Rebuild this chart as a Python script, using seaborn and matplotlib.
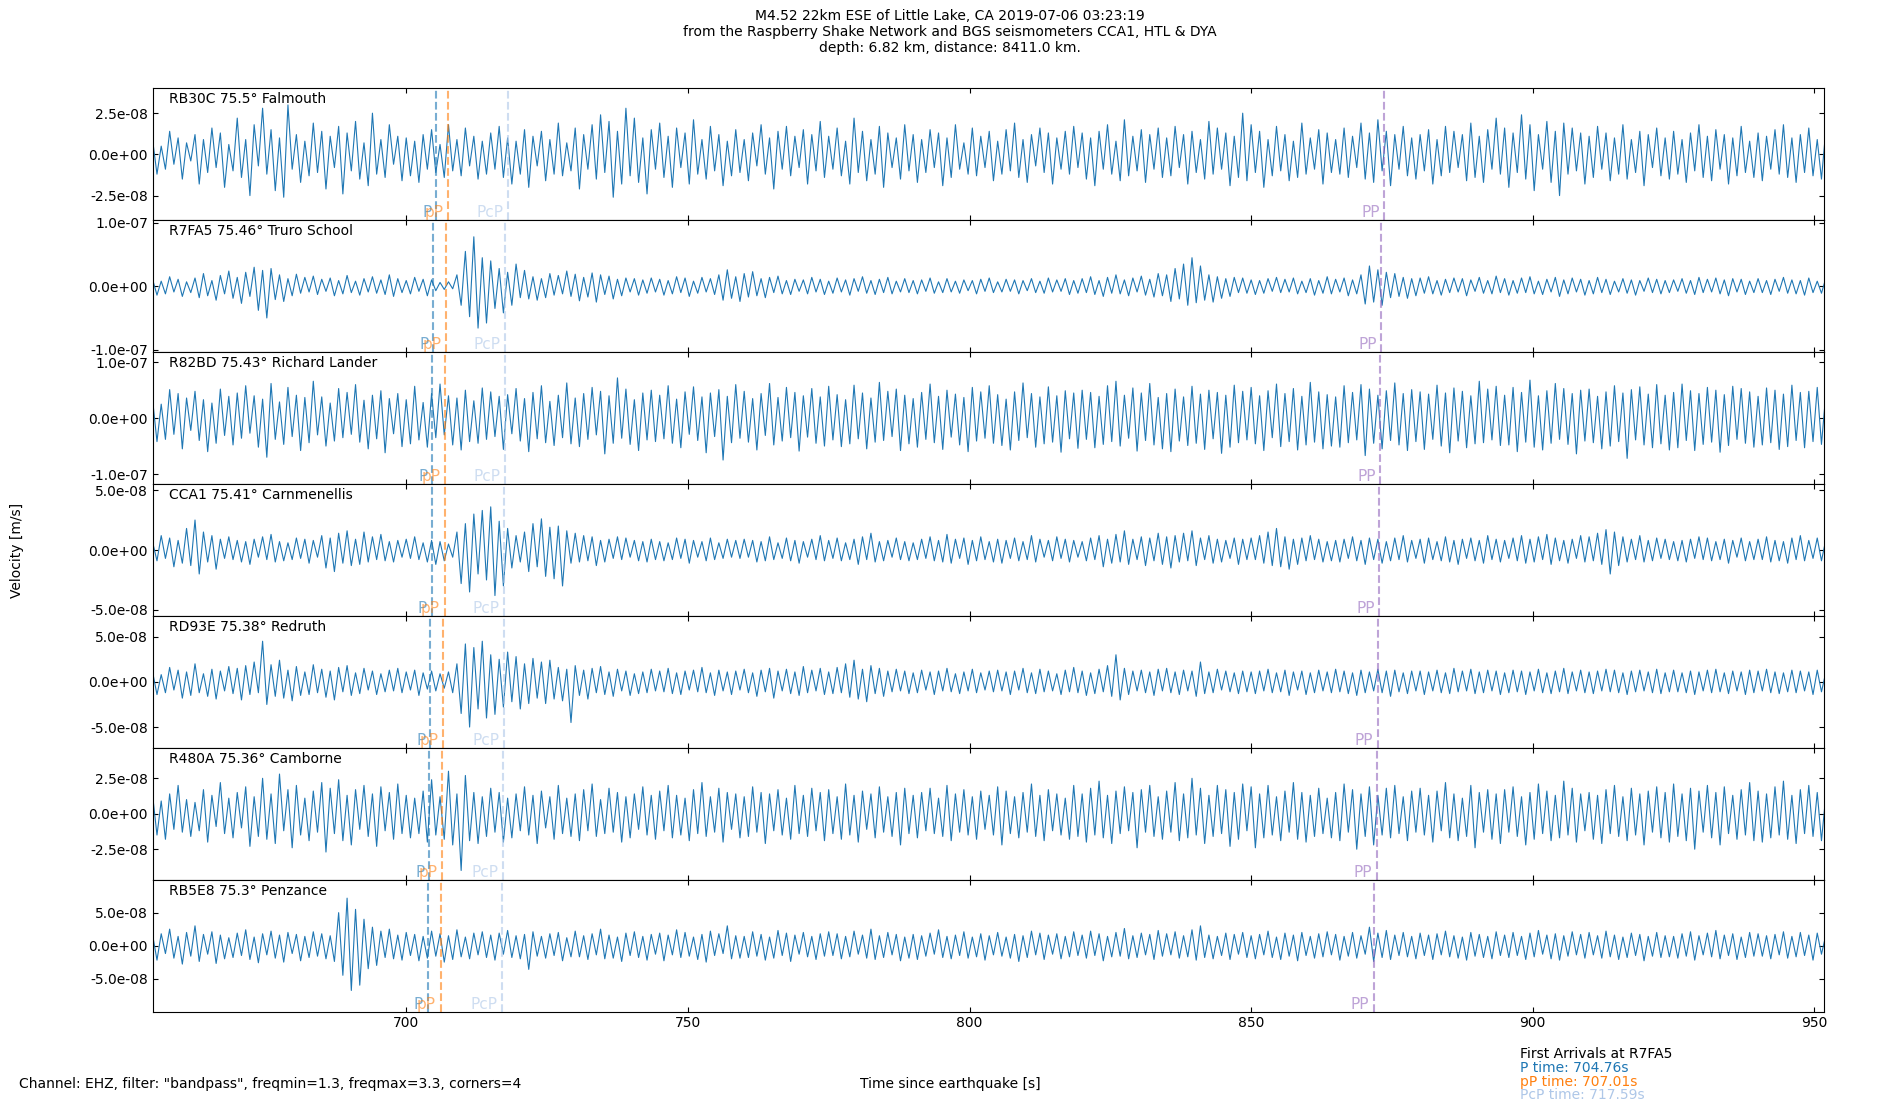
import numpy as np
import matplotlib
matplotlib.use("Agg")
import matplotlib.pyplot as plt
import matplotlib.transforms as mtransforms
from matplotlib.ticker import FormatStrFormatter
import seaborn as sns


# time axis of the traces (seconds since the earthquake)
T_START = 655.0
T_STEP = 0.75
X_LIM = (655.0, 951.7)

STATIONS = ["RB30C", "R7FA5", "R82BD", "CCA1", "RD93E", "R480A", "RB5E8"]
DISTANCES = [75.5, 75.46, 75.43, 75.41, 75.38, 75.36, 75.3]
PLACES = ["Falmouth", "Truro School", "Richard Lander", "Carnmenellis",
          "Redruth", "Camborne", "Penzance"]

# arrival times per station [s]
P_TIMES = [705.3, 704.76, 704.6, 704.5, 704.3, 704.1, 703.8]
PP_DEPTH_TIMES = [707.5, 707.01, 706.9, 706.8, 706.6, 706.4, 706.1]
PCP_TIMES = [718.0, 717.59, 717.5, 717.4, 717.3, 717.2, 717.0]
PP_TIMES = [873.6, 873.1, 872.9, 872.7, 872.5, 872.3, 871.8]

Y_LIMS = [4.0e-8, 1.04e-7, 1.18e-7, 5.5e-8, 7.3e-8, 4.65e-8, 1.0e-7]
Y_TICKS = [2.5e-8, 1.0e-7, 1.0e-7, 5.0e-8, 5.0e-8, 2.5e-8, 5.0e-8]

# velocity samples in nm/s, one every 0.75 s, 20 per row = 15 s
RB30C_NM = [
    8, -12, 5, -9, 14, -6, 10, -15, 7, -4, 12, -18, 9, -11, 16, -8, 13, -20, 6, -10,
    22, -14, 9, -25, 18, -7, 28, -12, 15, -22, 10, -26, 30, -9, 12, -17, 8, -13, 19, -11,
    14, -21, 11, -8, 17, -24, 13, -10, 20, -15, 7, -19, 25, -12, 9, -14, 18, -6, 11, -16,
    10, -13, 8, -17, 12, -9, 15, -11, 6, -14, 18, -10, 9, -13, 16, -7, 11, -15, 8, -12,
    13, -9, 17, -14, 10, -18, 8, -12, 15, -20, 11, -7, 14, -16, 9, -12, 19, -13, 7, -10,
    16, -21, 12, -9, 18, -15, 24, -11, 20, -26, 14, -18, 28, -13, 22, -17, 10, -24, 15, -9,
    19, -14, 11, -20, 16, -8, 13, -18, 21, -12, 9, -15, 17, -10, 12, -19, 8, -13, 15, -11,
    9, -16, 13, -7, 18, -12, 10, -21, 14, -9, 17, -13, 11, -8, 15, -18, 12, -10, 20, -14,
    11, -9, 16, -13, 8, -18, 22, -11, 14, -16, 9, -12, 17, -20, 13, -8, 10, -15, 18, -10,
    12, -17, 9, -11, 15, -8, 13, -19, 10, -14, 18, -9, 7, -12, 16, -13, 11, -8, 14, -16,
    8, -12, 15, -10, 19, -14, 9, -17, 12, -7, 16, -11, 13, -18, 10, -9, 14, -12, 17, -8,
    13, -15, 10, -19, 14, -9, 18, -12, 8, -16, 21, -13, 11, -10, 15, -17, 12, -9, 16, -14,
    10, -13, 17, -8, 12, -18, 14, -11, 9, -15, 20, -12, 16, -9, 13, -19, 11, -14, 25, -16,
    18, -11, 14, -20, 9, -13, 17, -10, 12, -16, 8, -14, 19, -12, 10, -9, 15, -18, 13, -11,
    9, -12, 16, -14, 11, -8, 19, -15, 13, -17, 21, -10, 14, -19, 12, -9, 17, -13, 10, -15,
    12, -10, 15, -18, 9, -13, 17, -11, 14, -8, 12, -16, 19, -14, 11, -17, 15, -9, 22, -12,
    16, -20, 13, -11, 24, -15, 18, -22, 12, -9, 20, -17, 14, -25, 19, -12, 16, -10, 13, -18,
    11, -14, 17, -9, 13, -16, 10, -12, 18, -15, 9, -11, 14, -19, 12, -8, 16, -13, 10, -15,
    14, -12, 9, -17, 13, -10, 18, -14, 11, -16, 15, -9, 12, -18, 10, -13, 17, -11, 8, -14,
    13, -16, 11, -9, 15, -12, 18, -14, 10, -17, 12, -11, 16, -13, 9, -15, 14, -10, 12, -8,
]

R7FA5_NM = [
    10, -14, 8, -12, 15, -9, 11, -16, 7, -10, 13, -18, 20, -15, 9, -22, 17, -12, 24, -19,
    14, -27, 22, -16, 30, -38, 25, -50, 28, -21, 18, -24, 12, -15, 19, -11, 14, -9, 16, -13,
    11, -8, 13, -15, 9, -12, 17, -10, 8, -14, 12, -9, 15, -11, 10, -13, 18, -16, 12, -10,
    9, -12, 14, -8, 11, -15, 10, -7, 6, -5, 7, -4, 18, -30, 55, -48, 78, -66, 45, -58,
    40, -35, 28, -42, 22, -30, 35, -18, 25, -20, 15, -22, 12, -18, 20, -14, 17, -12, 24, -16,
    19, -23, 14, -17, 21, -25, 18, -13, 16, -20, 11, -15, 13, -9, 12, -14, 10, -11, 13, -9,
    11, -14, 9, -12, 15, -10, 13, -16, 8, -11, 14, -9, 12, -13, 18, -22, 26, -19, 15, -24,
    20, -17, 23, -15, 12, -18, 14, -10, 16, -12, 9, -13, 11, -8, 10, -12, 14, -9, 11, -13,
    8, -11, 13, -9, 10, -14, 12, -8, 15, -11, 9, -13, 11, -10, 14, -12, 8, -9, 12, -10,
    9, -12, 10, -8, 13, -11, 7, -10, 12, -9, 8, -11, 10, -7, 9, -12, 11, -8, 13, -10,
    7, -9, 11, -8, 10, -12, 9, -7, 12, -10, 8, -11, 13, -9, 10, -8, 12, -13, 9, -11,
    12, -10, 15, -13, 9, -16, 14, -11, 18, -12, 10, -15, 13, -9, 16, -14, 11, -17, 20, -15,
    18, -24, 28, -20, 35, -30, 45, -26, 32, -22, 18, -25, 15, -19, 12, -16, 14, -10, 13, -11,
    10, -13, 9, -11, 12, -8, 14, -10, 11, -9, 13, -12, 8, -10, 12, -14, 9, -11, 15, -12,
    11, -9, 13, -15, 10, -12, 18, -28, 32, -25, 26, -30, 22, -18, 20, -16, 14, -19, 12, -15,
    13, -11, 15, -12, 9, -14, 11, -10, 13, -9, 12, -15, 10, -8, 14, -11, 9, -12, 16, -10,
    12, -14, 9, -11, 13, -10, 15, -12, 8, -13, 11, -9, 14, -16, 10, -12, 13, -9, 11, -14,
    9, -12, 14, -10, 11, -13, 8, -9, 12, -11, 10, -14, 9, -8, 13, -10, 11, -12, 9, -10,
    10, -8, 12, -11, 9, -13, 14, -10, 11, -9, 13, -12, 10, -15, 12, -9, 11, -13, 8, -10,
    12, -10, 9, -13, 11, -8, 14, -11, 10, -12, 9, -14, 13, -10, 8, -11, 12, -9, 10, -12,
]

R82BD_NM = [
    30, -42, 25, -38, 51, -29, 44, -55, 36, -22, 48, -40, 33, -60, 27, -45, 52, -31, 39, -48,
    45, -36, 58, -27, 40, -52, 34, -70, 62, -38, 29, -47, 55, -33, 41, -58, 37, -44, 66, -30,
    38, -50, 27, -41, 53, -35, 46, -29, 60, -43, 32, -55, 41, -37, 49, -62, 35, -28, 44, -51,
    33, -46, 57, -39, 28, -52, 44, -35, 61, -30, 40, -48, 36, -57, 50, -42, 31, -45, 54, -38,
    47, -33, 39, -56, 42, -28, 53, -41, 35, -60, 46, -37, 58, -44, 30, -49, 41, -35, 63, -46,
    36, -51, 44, -38, 55, -30, 48, -64, 40, -45, 72, -36, 52, -47, 33, -58, 45, -39, 50, -42,
    41, -37, 58, -45, 34, -53, 47, -29, 56, -40, 38, -62, 45, -33, 51, -75, 39, -44, 60, -36,
    48, -43, 35, -57, 44, -31, 62, -48, 37, -41, 55, -35, 46, -59, 40, -34, 53, -45, 38, -50,
    57, -39, 42, -51, 33, -46, 59, -37, 45, -55, 36, -43, 64, -40, 48, -33, 52, -58, 41, -46,
    35, -52, 46, -38, 61, -44, 39, -56, 50, -34, 43, -48, 37, -60, 55, -41, 47, -36, 58, -45,
    42, -49, 34, -57, 47, -40, 63, -35, 44, -52, 38, -46, 56, -43, 40, -61, 49, -37, 45, -54,
    50, -38, 46, -53, 39, -47, 58, -42, 66, -50, 41, -36, 54, -59, 45, -40, 62, -48, 37, -55,
    44, -60, 52, -41, 38, -49, 57, -45, 43, -56, 50, -37, 46, -63, 41, -52, 59, -44, 48, -39,
    55, -46, 40, -58, 49, -35, 61, -51, 44, -42, 53, -57, 39, -48, 64, -43, 47, -55, 42, -50,
    38, -52, 58, -44, 46, -39, 60, -67, 52, -45, 41, -55, 49, -40, 63, -48, 44, -58, 51, -42,
    47, -56, 43, -38, 59, -50, 45, -62, 54, -41, 48, -53, 40, -46, 66, -44, 52, -39, 57, -49,
    41, -48, 55, -60, 46, -43, 68, -52, 40, -57, 49, -45, 62, -38, 53, -47, 44, -64, 50, -41,
    52, -44, 39, -55, 47, -50, 58, -42, 45, -72, 51, -39, 56, -48, 43, -53, 60, -46, 41, -57,
    46, -53, 61, -40, 49, -58, 44, -47, 55, -43, 50, -61, 42, -49, 57, -38, 53, -45, 47, -52,
    39, -48, 54, -44, 50, -56, 43, -51, 59, -40, 46, -53, 48, -42, 55, -47, 41, -50, 45, -43,
]

CCA1_NM = [
    6, -9, 12, -7, 10, -14, 8, -11, 18, -13, 25, -20, 15, -10, 12, -16, 9, -7, 11, -8,
    8, -10, 7, -12, 9, -6, 11, -8, 13, -10, 7, -9, 6, -8, 10, -7, 9, -11, 8, -6,
    12, -15, 10, -18, 14, -11, 16, -13, 9, -12, 15, -10, 11, -8, 13, -9, 7, -10, 8, -6,
    9, -7, 11, -8, 6, -10, 8, -12, 7, -9, 5, -6, 15, -28, 22, -35, 30, -20, 33, -25,
    36, -38, 24, -30, 18, -15, 12, -10, 15, -18, 22, -14, 26, -22, 19, -24, 20, -30, 16, -11,
    14, -10, 12, -9, 11, -13, 8, -10, 9, -7, 11, -8, 10, -6, 8, -9, 7, -10, 9, -8,
    7, -9, 6, -8, 10, -7, 9, -11, 8, -6, 7, -9, 10, -8, 6, -7, 9, -6, 8, -7,
    9, -6, 8, -10, 7, -9, 11, -8, 6, -7, 10, -9, 8, -11, 7, -6, 9, -8, 12, -9,
    8, -7, 10, -9, 6, -8, 9, -12, 11, -8, 14, -10, 7, -9, 8, -6, 10, -8, 7, -9,
    6, -8, 9, -7, 11, -9, 8, -10, 13, -11, 9, -7, 10, -12, 8, -9, 11, -8, 7, -10,
    9, -11, 8, -7, 10, -9, 7, -8, 12, -10, 9, -6, 8, -9, 11, -7, 9, -10, 8, -6,
    7, -9, 10, -8, 12, -14, 9, -11, 13, -10, 16, -12, 9, -8, 11, -13, 10, -9, 14, -12,
    11, -15, 12, -10, 14, -9, 16, -13, 10, -8, 12, -11, 9, -10, 8, -7, 10, -12, 9, -8,
    10, -8, 12, -11, 15, -13, 18, -14, 11, -16, 9, -12, 10, -9, 12, -8, 9, -10, 7, -9,
    8, -10, 9, -7, 11, -9, 8, -12, 10, -8, 9, -11, 7, -9, 10, -8, 12, -10, 8, -7,
    9, -11, 10, -8, 7, -9, 11, -10, 8, -12, 9, -7, 10, -9, 8, -11, 12, -8, 9, -10,
    8, -7, 10, -9, 12, -11, 9, -10, 11, -8, 13, -12, 10, -9, 8, -11, 9, -7, 12, -10,
    11, -9, 14, -12, 17, -20, 15, -13, 11, -10, 9, -8, 12, -10, 8, -9, 10, -7, 9, -8,
    7, -9, 8, -10, 9, -7, 11, -8, 10, -9, 7, -8, 9, -11, 8, -6, 10, -9, 7, -8,
    9, -8, 11, -10, 8, -9, 7, -11, 10, -8, 12, -9, 8, -7, 10, -9, 8, -10, 9, -7,
]

RD93E_NM = [
    10, -14, 8, -12, 16, -9, 13, -18, 11, -15, 20, -12, 9, -16, 14, -19, 12, -10, 17, -13,
    15, -20, 18, -14, 22, -12, 45, -25, 19, -16, 24, -18, 13, -21, 17, -15, 11, -14, 19, -12,
    14, -17, 12, -20, 16, -11, 18, -15, 10, -13, 15, -9, 12, -14, 9, -11, 13, -10, 15, -12,
    11, -9, 13, -15, 10, -8, 12, -10, 9, -7, 11, -12, 20, -35, 42, -50, 38, -30, 45, -40,
    30, -36, 25, -28, 33, -22, 28, -30, 20, -24, 26, -18, 22, -24, 24, -19, 16, -21, 14, -45,
    18, -15, 13, -19, 15, -12, 17, -14, 11, -16, 14, -10, 12, -15, 9, -13, 11, -12, 14, -10,
    12, -11, 15, -13, 10, -14, 12, -9, 13, -11, 16, -12, 10, -15, 13, -10, 11, -14, 12, -9,
    14, -12, 10, -16, 13, -11, 15, -18, 12, -10, 14, -13, 11, -15, 17, -12, 13, -10, 15, -14,
    11, -13, 16, -12, 20, -17, 24, -19, 14, -22, 18, -13, 15, -16, 12, -11, 14, -10, 12, -13,
    10, -12, 13, -9, 11, -14, 12, -10, 15, -11, 9, -13, 11, -10, 14, -12, 10, -9, 12, -11,
    13, -10, 11, -14, 12, -9, 15, -12, 10, -13, 14, -11, 12, -10, 9, -14, 13, -11, 16, -12,
    12, -15, 10, -13, 14, -11, 18, -16, 30, -20, 15, -14, 12, -10, 13, -12, 11, -15, 14, -10,
    15, -12, 11, -14, 13, -10, 12, -16, 22, -13, 11, -12, 14, -9, 12, -11, 10, -13, 12, -11,
    11, -13, 12, -10, 14, -12, 10, -11, 13, -15, 11, -9, 12, -14, 10, -12, 13, -10, 11, -12,
    14, -11, 12, -13, 10, -15, 13, -12, 11, -10, 14, -12, 12, -16, 13, -11, 10, -13, 12, -10,
    12, -14, 11, -10, 13, -12, 10, -13, 15, -11, 12, -10, 14, -13, 11, -12, 13, -10, 12, -14,
    10, -12, 13, -11, 12, -14, 11, -10, 14, -12, 10, -13, 12, -11, 15, -13, 11, -10, 13, -12,
    11, -13, 12, -10, 14, -11, 13, -12, 10, -14, 12, -11, 13, -10, 11, -12, 14, -13, 10, -11,
    13, -11, 10, -12, 12, -14, 11, -10, 13, -12, 14, -11, 10, -13, 12, -10, 11, -14, 13, -12,
    12, -10, 14, -12, 11, -13, 10, -11, 13, -12, 12, -10, 11, -14, 13, -11, 10, -12, 12, -10,
]

R480A_NM = [
    12, -15, 9, -18, 14, -11, 20, -13, 10, -16, 8, -12, 17, -20, 13, -9, 22, -14, 11, -17,
    15, -10, 19, -23, 12, -16, 25, -18, 14, -21, 28, -12, 17, -24, 20, -15, 11, -19, 16, -13,
    22, -27, 18, -14, 24, -19, 13, -22, 17, -11, 20, -16, 14, -23, 19, -12, 15, -18, 21, -14,
    13, -17, 11, -14, 16, -20, 24, -15, 12, -18, 30, -22, 14, -40, 27, -19, 15, -21, 12, -16,
    18, -13, 15, -20, 11, -17, 14, -12, 19, -15, 13, -21, 16, -10, 12, -18, 20, -14, 11, -16,
    14, -19, 17, -12, 21, -16, 10, -14, 18, -13, 15, -20, 12, -17, 14, -11, 19, -15, 13, -18,
    16, -12, 20, -17, 13, -15, 11, -19, 17, -14, 22, -16, 12, -13, 18, -20, 15, -11, 14, -17,
    12, -16, 19, -13, 15, -21, 14, -12, 17, -15, 11, -18, 20, -14, 13, -16, 18, -12, 15, -19,
    17, -14, 12, -18, 21, -15, 13, -20, 16, -11, 14, -17, 19, -13, 12, -16, 15, -22, 18, -14,
    13, -17, 15, -12, 18, -14, 11, -16, 20, -19, 14, -13, 17, -15, 12, -18, 16, -11, 13, -15,
    19, -22, 16, -14, 12, -17, 15, -13, 21, -16, 13, -19, 17, -12, 14, -15, 11, -18, 20, -16,
    14, -20, 18, -15, 23, -17, 13, -21, 16, -14, 19, -12, 15, -24, 17, -13, 20, -16, 12, -18,
    16, -13, 22, -19, 14, -17, 25, -15, 18, -21, 13, -16, 20, -14, 17, -23, 15, -18, 21, -12,
    19, -24, 14, -17, 20, -15, 12, -19, 16, -13, 22, -18, 15, -20, 13, -16, 18, -14, 11, -17,
    15, -19, 21, -13, 17, -25, 14, -16, 19, -22, 13, -15, 18, -17, 20, -14, 12, -19, 16, -13,
    18, -15, 13, -20, 16, -12, 22, -17, 14, -19, 11, -16, 20, -24, 15, -13, 17, -18, 14, -21,
    17, -13, 19, -16, 12, -22, 15, -18, 21, -14, 16, -19, 13, -17, 23, -15, 18, -20, 14, -12,
    15, -18, 13, -21, 17, -14, 20, -16, 12, -19, 18, -15, 14, -22, 16, -13, 19, -17, 15, -20,
    21, -16, 14, -19, 18, -25, 16, -13, 20, -17, 15, -22, 19, -14, 13, -18, 17, -15, 22, -19,
    16, -20, 14, -17, 19, -15, 23, -18, 13, -21, 17, -14, 20, -16, 15, -19, 12, -28, 18, -15,
]

RB5E8_NM = [
    15, -22, 18, -12, 25, -19, 14, -28, 20, -16, 30, -24, 17, -13, 21, -27, 16, -20, 12, -18,
    19, -15, 24, -21, 13, -26, 18, -14, 22, -19, 16, -25, 20, -12, 17, -23, 14, -18, 21, -16,
    18, -20, 15, -24, 50, -45, 72, -68, 55, -60, 40, -35, 28, -30, 22, -18, 25, -20, 16, -22,
    20, -15, 17, -23, 14, -19, 22, -16, 18, -25, 15, -21, 24, -17, 13, -20, 19, -14, 21, -18,
    16, -22, 19, -13, 23, -18, 15, -20, 17, -36, 21, -16, 14, -19, 18, -15, 20, -23, 12, -17,
    22, -17, 15, -21, 18, -14, 25, -20, 16, -19, 13, -24, 19, -15, 21, -18, 14, -22, 17, -13,
    19, -23, 16, -14, 24, -18, 20, -16, 13, -21, 17, -25, 22, -15, 18, -12, 30, -20, 15, -19,
    14, -18, 21, -16, 17, -22, 13, -19, 23, -15, 19, -24, 16, -13, 20, -17, 14, -21, 18, -16,
    21, -15, 18, -20, 14, -17, 22, -13, 16, -19, 25, -21, 15, -18, 20, -14, 17, -23, 13, -19,
    17, -21, 15, -16, 19, -13, 24, -18, 14, -20, 16, -15, 21, -19, 13, -17, 18, -22, 15, -14,
    20, -16, 13, -19, 17, -24, 15, -18, 22, -14, 19, -21, 16, -13, 18, -20, 14, -17, 21, -15,
    16, -19, 22, -15, 18, -23, 14, -17, 20, -16, 26, -20, 15, -18, 19, -14, 17, -21, 23, -16,
    18, -14, 21, -19, 15, -17, 24, -22, 30, -18, 16, -20, 14, -15, 19, -21, 17, -13, 20, -18,
    15, -20, 17, -14, 22, -18, 13, -21, 19, -16, 16, -23, 20, -15, 14, -19, 18, -17, 21, -14,
    17, -22, 14, -16, 20, -19, 15, -13, 28, -24, 19, -18, 23, -21, 16, -15, 20, -17, 14, -20,
    19, -15, 16, -21, 18, -14, 22, -17, 15, -19, 13, -22, 20, -16, 17, -18, 14, -20, 21, -15,
    16, -18, 20, -15, 14, -21, 19, -17, 23, -13, 16, -20, 18, -22, 15, -16, 21, -14, 17, -19,
    20, -14, 15, -19, 22, -17, 16, -21, 13, -18, 19, -15, 17, -23, 14, -16, 20, -18, 15, -17,
    14, -19, 18, -16, 21, -22, 15, -14, 19, -17, 23, -20, 16, -15, 18, -21, 13, -18, 20, -16,
    18, -16, 15, -20, 17, -14, 21, -19, 14, -17, 20, -15, 16, -22, 19, -13, 15, -18, 17, -14,
]

TRACES_NM = [RB30C_NM, R7FA5_NM, R82BD_NM, CCA1_NM, RD93E_NM, R480A_NM, RB5E8_NM]

PHASE_NAMES = ["P", "pP", "PcP", "PP"]
PHASE_COLORS = ["#1f77b4", "#ff7f0e", "#aec7e8", "#9467bd"]

TITLE = ("M4.52 22km ESE of Little Lake, CA 2019-07-06 03:23:19\n"
         "from the Raspberry Shake Network and BGS seismometers CCA1, HTL & DYA\n"
         "depth: 6.82 km, distance: 8411.0 km.")
FILTER_NOTE = 'Channel: EHZ, filter: "bandpass", freqmin=1.3, freqmax=3.3, corners=4'
REF_STATION = "R7FA5"


def build_frame(values_nm):
    t = T_START + T_STEP * np.arange(len(values_nm))
    return t, np.asarray(values_nm, dtype=float) * 1e-9


def draw_station(ax, i):
    t, v = build_frame(TRACES_NM[i])
    sns.lineplot(x=t, y=v, ax=ax, color="#1f77b4", linewidth=0.8,
                 estimator=None, sort=False)
    ax.set_xlim(*X_LIM)
    ax.set_ylim(-Y_LIMS[i], Y_LIMS[i])
    ax.set_yticks([-Y_TICKS[i], 0.0, Y_TICKS[i]])
    ax.yaxis.set_major_formatter(FormatStrFormatter("%.1e"))
    ax.set_ylabel("")
    ax.text(0.0095, 0.97, f"{STATIONS[i]} {DISTANCES[i]}° {PLACES[i]}",
            transform=ax.transAxes, ha="left", va="top", fontsize=10)

    trans = mtransforms.blended_transform_factory(ax.transData, ax.transAxes)
    times = [P_TIMES[i], PP_DEPTH_TIMES[i], PCP_TIMES[i], PP_TIMES[i]]
    for name, tt, col in zip(PHASE_NAMES, times, PHASE_COLORS):
        ax.axvline(tt, color=col, alpha=0.6, linestyle="--", linewidth=1.5)
        ax.text(tt - 0.8, 0.0, name, transform=trans, color=col, alpha=0.6,
                ha="right", va="bottom", fontsize=11)


def main():
    sns.set_style("ticks", rc={
        "axes.edgecolor": "black",
        "xtick.color": "black",
        "ytick.color": "black",
        "text.color": "black",
        "axes.labelcolor": "black",
        "xtick.direction": "in",
        "ytick.direction": "in",
        "xtick.top": True,
        "ytick.right": True,
    })
    plt.rcParams["font.family"] = ["DejaVu Sans"]
    plt.rcParams["font.size"] = 10
    plt.rcParams["axes.linewidth"] = 0.8

    fig, axes = plt.subplots(len(STATIONS), 1, figsize=(19, 11), dpi=100,
                             sharex=True, gridspec_kw={"hspace": 0})
    fig.subplots_adjust(left=0.0804, right=0.960, top=0.9196, bottom=0.0804)

    for i, ax in enumerate(axes):
        draw_station(ax, i)
        ax.tick_params(axis="both", which="both", direction="in",
                       top=True, right=True, labelsize=10)

    axes[-1].set_xticks([700, 750, 800, 850, 900, 950])
    axes[-1].set_xlabel("")

    fig.suptitle(TITLE, x=0.5, y=0.992, va="top", fontsize=10, linespacing=1.2)
    fig.text(0.009, 0.5, "Velocity [m/s]", rotation=90, ha="center", va="center")
    fig.text(0.5, 0.0143, "Time since earthquake [s]", ha="center", va="center")
    fig.text(0.0102, 0.0143, FILTER_NOTE, ha="left", va="center")

    ref = STATIONS.index(REF_STATION)
    fig.text(0.800, 0.0420, f"First Arrivals at {REF_STATION}", ha="left", va="center")
    fig.text(0.800, 0.0288, f"P time: {P_TIMES[ref]:.2f}s", color=PHASE_COLORS[0],
             ha="left", va="center")
    fig.text(0.800, 0.0166, f"pP time: {PP_DEPTH_TIMES[ref]:.2f}s", color=PHASE_COLORS[1],
             ha="left", va="center")
    fig.text(0.800, 0.0046, f"PcP time: {PCP_TIMES[ref]:.2f}s", color=PHASE_COLORS[2],
             ha="left", va="center")

    fig.savefig("out.png", dpi=100)
    plt.close(fig)


if __name__ == "__main__":
    main()
